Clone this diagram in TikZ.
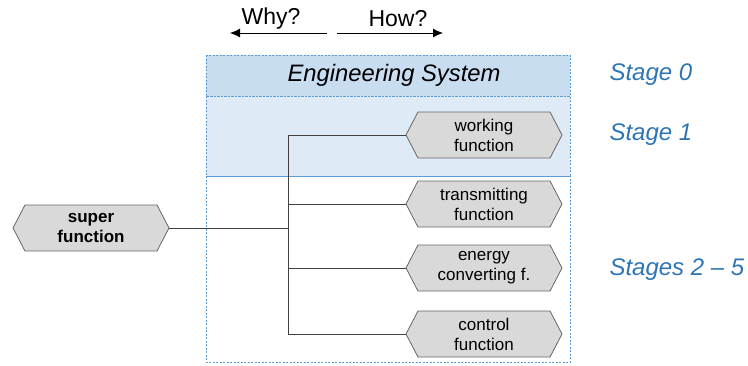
\documentclass[tikz,border=0pt]{standalone}
\usepackage{fontspec}
\setmainfont{Liberation Sans}
\usetikzlibrary{shapes.symbols,arrows.meta}
\definecolor{stageblue}{HTML}{2E75B6}
\definecolor{dashblue}{HTML}{5B9BD5}
\definecolor{stagezero}{HTML}{C9DDF1}
\definecolor{stageone}{HTML}{DEEBF7}
\tikzset{
  fn/.style={signal, signal to=west and east, signal pointer angle=125,
    draw=black!60, fill=black!15, line width=.8pt, minimum width=156pt,
    minimum height=46pt, inner sep=0pt, align=center,
    font=\fontsize{17}{20}\selectfont},
  stagebox/.style={draw=dashblue, line width=.8pt, dash pattern=on 2pt off 1.5pt},
  stagelabel/.style={anchor=west, text=stageblue, font=\fontsize{24}{28}\selectfont\itshape},
  link/.style={draw=black!75, line width=.8pt}
}
\begin{document}
\begin{tikzpicture}[x=1pt,y=-1pt]
  \useasboundingbox (0,0) rectangle (748,365);

  % stage boxes
  \fill[stagezero] (206,55) rectangle (570,96);
  \fill[stageone] (206,96) rectangle (570,176);
  \draw[stagebox] (206,55) rectangle (570,96);
  \draw[stagebox] (206,96) rectangle (570,176);
  \draw[stagebox] (206,176) rectangle (570,362);
  \node[font=\fontsize{23.8}{28}\selectfont\itshape] (es) at (394,75) {Engineering System};

  % why / how
  \node[font=\fontsize{23}{28}\selectfont] (why) at (271,19) {Why?};
  \node[font=\fontsize{23}{28}\selectfont] (how) at (398,19) {How?};
  \coordinate (whyR) at (327,33); \coordinate (whyL) at (230,33);
  \coordinate (howL) at (337,33); \coordinate (howR) at (443,33);
  \draw[line width=.9pt,-{Latex[length=10pt,width=9pt]}] (whyR) -- (whyL);
  \draw[line width=.9pt,-{Latex[length=10pt,width=9pt]}] (howL) -- (howR);

  % functions
  \node[fn,font=\fontsize{17}{20}\selectfont\bfseries] (super) at (91,228) {super\\function};
  \foreach \y/\n/\t in {135/work/working\\function,
                        204/trans/transmitting\\function,
                        268/energy/energy\\converting f.,
                        334/ctrl/control\\function} {
    \node[fn] (\n) at (484,\y) {\t};
  }
  \coordinate (hub) at (288,228);
  \draw[link] (super.east) -- (hub);
  \foreach \n in {work,trans,energy,ctrl}
    \draw[link] (hub) |- (\n.west);

  % stages
  \node[stagelabel] (s0) at (606,75) {Stage 0};
  \node[stagelabel] (s1) at (606,135) {Stage 1};
  \node[stagelabel] (s25) at (606,270) {Stages 2 – 5};
\end{tikzpicture}
\end{document}
